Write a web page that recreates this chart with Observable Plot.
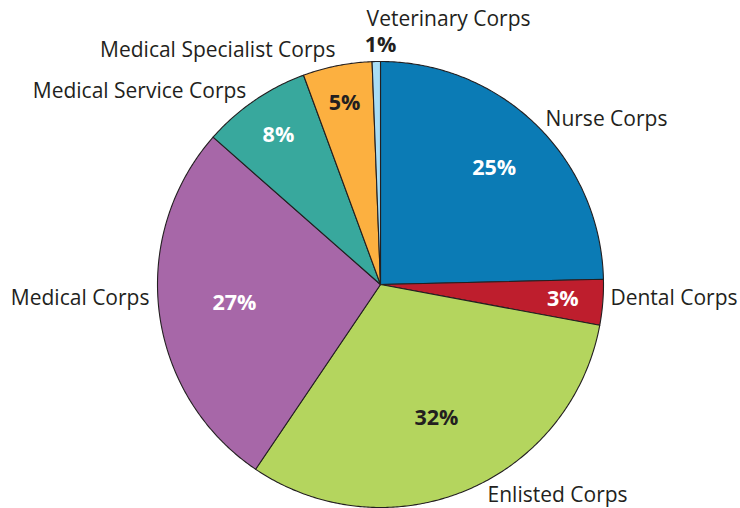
<!DOCTYPE html>
<html>
<head>
<meta charset="utf-8">
<script src="https://cdn.jsdelivr.net/npm/d3@7"></script>
<script src="https://cdn.jsdelivr.net/npm/@observablehq/plot@0.6"></script>
<style>
  html, body { margin: 0; padding: 0; background: #fff; }
  #chart svg { display: block; }
</style>
</head>
<body>
<div id="chart"></div>
<script>
// ---- data ----
const categories = ["Nurse Corps", "Dental Corps", "Enlisted Corps", "Medical Corps",
  "Medical Service Corps", "Medical Specialist Corps", "Veterinary Corps"];
const shares = [24.6, 3.3, 31.5, 27.0, 7.9, 5.0, 0.6];   // slice sizes
const percentLabels = ["25%", "3%", "32%", "27%", "8%", "5%", "1%"];
const colors = ["#0b7bb5", "#be1e2d", "#b4d55e", "#a767a8", "#38a89d", "#fcb040", "#a8ddf5"];
const percentTextColors = ["#ffffff", "#ffffff", "#231f20", "#ffffff", "#ffffff", "#231f20", "#231f20"];

// ---- label layout (annotation placement, polar: degrees clockwise from 12 o'clock, radius factor) ----
const nameAngle = [45, 93.5, 153.1, 266.5, 325.2, 349.1, 357];
const nameRadius = [1.047, 1.033, 1.061, 1.038, 1.054, 1.069, 1.19];
const nameAnchor = ["start", "start", "start", "end", "end", "end", "start"];
const pctRadius = [0.73, 0.82, 0.65, 0.66, 0.81, 0.83, 1.074];
const pctAngleOverride = [null, null, null, null, null, null, 356.2];

// ---- build geometry from the data ----
const pie = d3.pie().sort(null).value(d => d)(shares);
const slices = [];
pie.forEach((p, i) => {
  const n = Math.max(2, Math.ceil((p.endAngle - p.startAngle) / (Math.PI / 360)));
  slices.push({cat: categories[i], x: 0, y: 0, k: 0});
  for (let j = 0; j <= n; j++) {
    const a = p.startAngle + (p.endAngle - p.startAngle) * j / n;
    slices.push({cat: categories[i], x: Math.sin(a), y: Math.cos(a), k: j + 1});
  }
  slices.push({cat: categories[i], x: 0, y: 0, k: n + 2});
});

const rad = deg => deg * Math.PI / 180;
const nameLabels = categories.map((c, i) => ({
  text: c,
  x: nameRadius[i] * Math.sin(rad(nameAngle[i])),
  y: nameRadius[i] * Math.cos(rad(nameAngle[i])),
  anchor: nameAnchor[i]
}));
const pctLabels = pie.map((p, i) => {
  const a = pctAngleOverride[i] != null ? rad(pctAngleOverride[i]) : (p.startAngle + p.endAngle) / 2;
  return {
    text: percentLabels[i],
    x: pctRadius[i] * Math.sin(a),
    y: pctRadius[i] * Math.cos(a),
    fill: percentTextColors[i],
    anchor: pctAngleOverride[i] != null ? "start" : "middle"
  };
});

const font = "'Open Sans', 'Noto Sans', sans-serif";

const chart = Plot.plot({
  width: 740,
  height: 508,
  marginLeft: 157,
  marginRight: 137,
  marginTop: 61,
  marginBottom: 1,
  x: {domain: [-1, 1], axis: null},
  y: {domain: [-1, 1], axis: null},
  color: {domain: categories, range: colors},
  style: {fontFamily: font, background: "#fff", overflow: "visible"},
  marks: [
    Plot.line(slices, {x: "x", y: "y", z: "cat", fill: "cat", stroke: "#231f20", strokeWidth: 1.1, strokeLinejoin: "round", curve: "linear"}),
    ...["start", "end"].map(anc => Plot.text(nameLabels.filter(d => d.anchor === anc), {
      x: "x", y: "y", text: "text", textAnchor: anc, fill: "#231f20", fontSize: 21
    })),
    ...["start", "middle"].map(anc => Plot.text(pctLabels.filter(d => d.anchor === anc), {
      x: "x", y: "y", text: "text", textAnchor: anc, fill: d => d.fill, fontSize: 21.5, fontWeight: "bold"
    }))
  ]
});
document.getElementById("chart").appendChild(chart);
</script>
</body>
</html>
